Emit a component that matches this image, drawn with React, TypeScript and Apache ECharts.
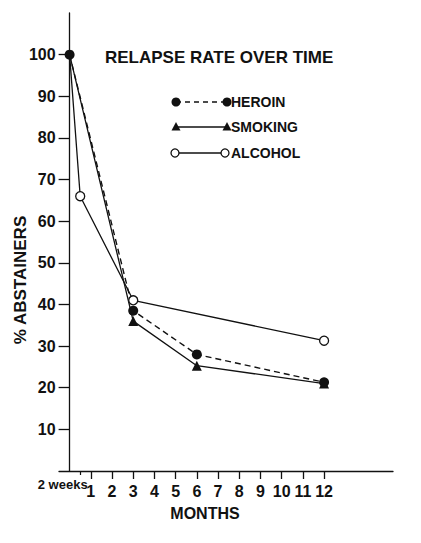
import React, { useEffect, useRef } from "react";
import * as echarts from "echarts";

const heroinMonths = [0, 3, 6, 12];
const heroinValues = [100, 38.5, 28, 21.3];
const smokingMonths = [0, 3, 6, 12];
const smokingValues = [100, 36, 25.3, 21];
const alcoholMonths = [0, 0.5, 3, 12];
const alcoholValues = [100, 66, 41, 31.3];
const monthTicks = [1, 2, 3, 4, 5, 6, 7, 8, 9, 10, 11, 12];
const yTicks = [10, 20, 30, 40, 50, 60, 70, 80, 90, 100];
const titleText = "RELAPSE RATE OVER TIME";
const legendNames = ["HEROIN", "SMOKING", "ALCOHOL"];

const FONT = "Liberation Sans, Arial, sans-serif";
const INK = "#111";

const GRID_LEFT = 59;
const GRID_RIGHT = 28;
const X_MIN = -0.5;
const X_MAX = 15.25;

function pairs(xs: number[], ys: number[], hideFirst: boolean) {
  return xs.map((x, i) =>
    hideFirst && i === 0 ? { value: [x, ys[i]], symbol: "none" } : { value: [x, ys[i]] }
  );
}

export default function App() {
  const ref = useRef<HTMLDivElement>(null);
  useEffect(() => {
    if (!ref.current) return;
    const chart = echarts.init(ref.current, null, { renderer: "svg" });
    const gridWidth = 421 - GRID_LEFT - GRID_RIGHT;
    const zeroOffset = (-X_MIN / (X_MAX - X_MIN)) * gridWidth;
    const legendX1 = 176;
    const legendX2 = 227;
    const rows = [102, 127, 153];
    chart.setOption({
      animation: false,
      backgroundColor: "#fff",
      grid: { left: GRID_LEFT, right: GRID_RIGHT, top: 13, bottom: 72, containLabel: false },
      xAxis: [
        {
          type: "value",
          min: X_MIN,
          max: X_MAX,
          splitLine: { show: false },
          axisLine: { onZero: false, lineStyle: { color: INK, width: 1.3 } },
          axisTick: { customValues: monthTicks, length: 8, lineStyle: { color: INK, width: 1.3 } },
          axisLabel: {
            customValues: monthTicks,
            margin: 12,
            color: INK,
            fontFamily: FONT,
            fontWeight: "bold",
            fontSize: 16,
          },
        },
        {
          type: "value",
          position: "bottom",
          min: X_MIN,
          max: X_MAX,
          splitLine: { show: false },
          axisLine: { show: false, onZero: false },
          axisTick: { customValues: [0.5], length: 4, lineStyle: { color: INK, width: 1.2 } },
          axisLabel: {
            customValues: [0.5],
            margin: 7,
            formatter: () => "{a|2 weeks}{b| }",
            rich: {
              a: { fontFamily: FONT, fontWeight: "bold", fontSize: 13, color: INK },
              b: { width: 35, fontSize: 13 },
            },
          },
        },
      ],
      yAxis: {
        type: "value",
        min: 0,
        max: 110,
        interval: 10,
        offset: -zeroOffset,
        splitLine: { show: false },
        axisLine: { onZero: false, lineStyle: { color: INK, width: 1.3 } },
        axisTick: { customValues: yTicks, length: 11, lineStyle: { color: INK, width: 1.3 } },
        axisLabel: {
          customValues: yTicks,
          margin: 14,
          color: INK,
          fontFamily: FONT,
          fontWeight: "bold",
          fontSize: 16,
        },
      },
      series: [
        {
          name: "ALCOHOL",
          type: "line",
          data: pairs(alcoholMonths, alcoholValues, true),
          symbol: "circle",
          symbolSize: 9,
          lineStyle: { color: INK, width: 1.3 },
          itemStyle: { color: "#fff", borderColor: INK, borderWidth: 1.3 },
        },
        {
          name: "SMOKING",
          type: "line",
          data: pairs(smokingMonths, smokingValues, true),
          symbol: "triangle",
          symbolSize: 10,
          lineStyle: { color: INK, width: 1.3 },
          itemStyle: { color: INK },
        },
        {
          name: "HEROIN",
          type: "line",
          data: pairs(heroinMonths, heroinValues, false),
          symbol: "circle",
          symbolSize: 10,
          lineStyle: { color: INK, width: 1.4, type: [6, 4] },
          itemStyle: { color: INK },
        },
      ],
      graphic: [
        {
          type: "text",
          x: 105,
          y: 57,
          style: {
            text: titleText,
            fontFamily: FONT,
            fontWeight: "bold",
            fontSize: 17,
            fill: INK,
            verticalAlign: "middle",
          },
        },
        {
          type: "text",
          x: 20,
          y: 280,
          rotation: Math.PI / 2,
          style: {
            text: "% ABSTAINERS",
            fontFamily: FONT,
            fontWeight: "bold",
            fontSize: 17,
            fill: INK,
            align: "center",
            verticalAlign: "middle",
          },
        },
        {
          type: "text",
          x: 205,
          y: 513,
          style: {
            text: "MONTHS",
            fontFamily: FONT,
            fontWeight: "bold",
            fontSize: 16,
            fill: INK,
            align: "center",
            verticalAlign: "middle",
          },
        },
        // legend row: heroin
        { type: "line", shape: { x1: legendX1, y1: rows[0], x2: legendX2, y2: rows[0] }, style: { stroke: INK, lineWidth: 1.4, lineDash: [5, 4] } },
        { type: "circle", shape: { cx: legendX1, cy: rows[0], r: 4.5 }, style: { fill: INK } },
        { type: "circle", shape: { cx: legendX2, cy: rows[0], r: 4.5 }, style: { fill: INK } },
        // smoking
        { type: "line", shape: { x1: legendX1, y1: rows[1], x2: legendX2, y2: rows[1] }, style: { stroke: INK, lineWidth: 1.3 } },
        { type: "polygon", shape: { points: [[legendX1 - 4.5, rows[1] + 3.5], [legendX1 + 4.5, rows[1] + 3.5], [legendX1, rows[1] - 5]] }, style: { fill: INK } },
        { type: "polygon", shape: { points: [[legendX2 - 4.5, rows[1] + 3.5], [legendX2 + 4.5, rows[1] + 3.5], [legendX2, rows[1] - 5]] }, style: { fill: INK } },
        // alcohol
        { type: "line", shape: { x1: legendX1 - 1, y1: rows[2], x2: legendX2 - 2, y2: rows[2] }, style: { stroke: INK, lineWidth: 1.3 } },
        { type: "circle", shape: { cx: legendX1 - 1, cy: rows[2], r: 4 }, style: { fill: "#fff", stroke: INK, lineWidth: 1.3 } },
        { type: "circle", shape: { cx: legendX2 - 2, cy: rows[2], r: 4 }, style: { fill: "#fff", stroke: INK, lineWidth: 1.3 } },
        ...legendNames.map((n, i) => ({
          type: "text",
          x: 231,
          y: rows[i],
          style: {
            text: n,
            fontFamily: FONT,
            fontWeight: "bold",
            fontSize: 14,
            fill: INK,
            verticalAlign: "middle",
          },
        })),
      ],
    });
    return () => chart.dispose();
  }, []);
  return (
    <div
      ref={ref}
      style={{ position: "fixed", left: 0, top: 0, width: 421, height: 543, background: "#fff" }}
    />
  );
}
